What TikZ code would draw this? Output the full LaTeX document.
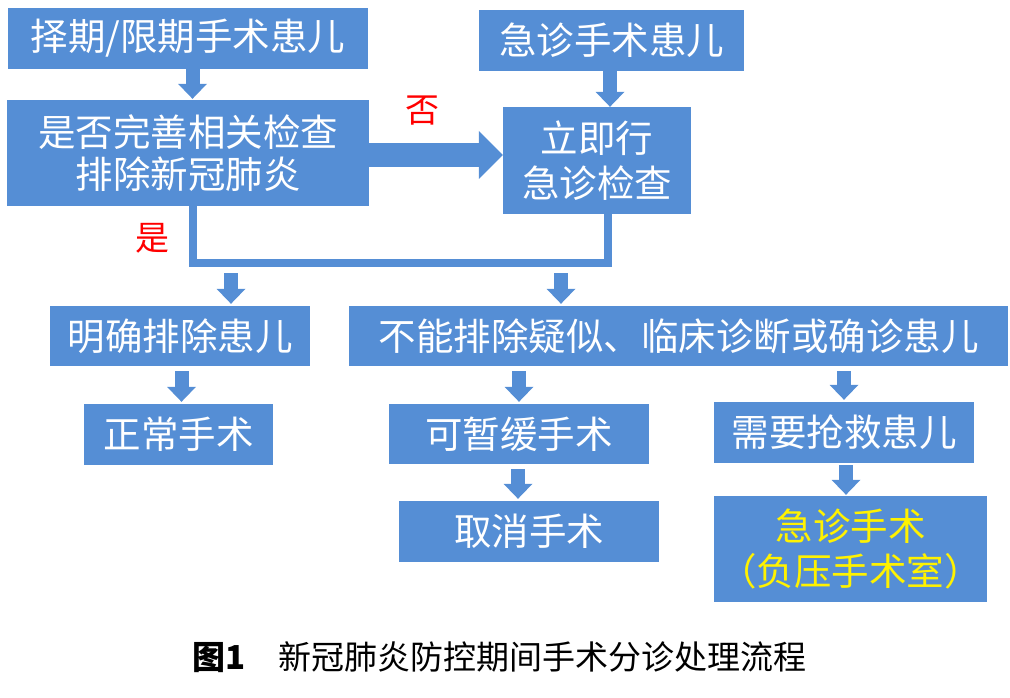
\documentclass[tikz,border=0pt]{standalone}
\usepackage{fontspec}
\setmainfont{Noto Sans CJK SC}
\usetikzlibrary{arrows.meta}
\definecolor{boxblue}{RGB}{85,142,213}

\begin{document}
\begin{tikzpicture}[
  x=1pt, y=-1pt,
  block/.style={rectangle, fill=boxblue, text=white, inner sep=0pt, align=center, font=\fontsize{37.5}{45}\selectfont},
  flow/.style={draw=boxblue, line width=14pt, shorten <=5pt, shorten >=2pt, -{Triangle[length=15pt, width=29pt, line width=0pt]}},
  bigflow/.style={draw=boxblue, line width=24pt, -{Triangle[length=24pt, width=48pt, line width=0pt]}},
  link/.style={draw=boxblue, line width=8.5pt},
  answer/.style={text=red, inner sep=0pt, font=\fontsize{34}{34}\selectfont}
]
\useasboundingbox (0,0) rectangle (1010,698);

\node[block, minimum width=360pt, minimum height=61pt] (elective) at (188,38.5) {择期/限期手术患儿};
\node[block, minimum width=265pt, minimum height=61pt] (emergency) at (611.5,40.5) {急诊手术患儿};
\node[block, minimum width=362pt, minimum height=106pt, font=\fontsize{37.5}{42}\selectfont] (check) at (188,153) {是否完善相关检查\\排除新冠肺炎};
\node[block, minimum width=188pt, minimum height=107pt] (urgent) at (597,160.5) {立即行\\急诊检查};
\node[block, minimum width=260pt, minimum height=60pt] (excluded) at (180,336) {明确排除患儿};
\node[block, minimum width=659pt, minimum height=60pt] (suspect) at (678.5,336) {不能排除疑似、临床诊断或确诊患儿};
\node[block, minimum width=189pt, minimum height=61pt] (normal) at (178.5,434.5) {正常手术};
\node[block, minimum width=260pt, minimum height=60pt] (delay) at (519,434) {可暂缓手术};
\node[block, minimum width=260pt, minimum height=61pt] (rescue) at (844,432.5) {需要抢救患儿};
\node[block, minimum width=260pt, minimum height=61pt] (cancel) at (529,531.5) {取消手术};
\node[block, minimum width=273pt, minimum height=106pt, text=yellow] (emsurgery) at (850.5,549) {急诊手术\\（负压手术室）};

\node[answer] (no) at (422,111) {否};
\node[answer] (yes) at (152,238) {是};

\coordinate (cornerL) at (193,263);
\coordinate (cornerR) at (608,263);
\coordinate (toexcl) at (231,267);
\coordinate (tosusp) at (561,267);

\draw[flow, shorten <=0pt, shorten >=1pt] ([xshift=4.5pt]elective.south) -- ([xshift=4.5pt]elective.south |- check.north);
\draw[flow, shorten <=0pt, shorten >=0pt] ([xshift=-1.5pt]emergency.south) -- ([xshift=-1.5pt]emergency.south |- urgent.north);
\draw[bigflow] ([yshift=-2pt]check.east) -- ([yshift=-2pt]check.east -| urgent.west);
\draw[link] (check.south -| cornerL) -- (cornerL) -- (cornerR) -- (urgent.south -| cornerR);
\draw[flow, shorten <=6pt] (toexcl) -- (toexcl |- excluded.north);
\draw[flow, shorten <=6pt] (tosusp) -- (tosusp |- suspect.north);
\draw[flow] ([xshift=1.5pt]excluded.south) -- ([xshift=1.5pt]excluded.south |- normal.north);
\draw[flow] (delay.north |- suspect.south) -- (delay.north);
\draw[flow] (rescue.north |- suspect.south) -- (rescue.north);
\draw[flow] ([xshift=-1pt]delay.south) -- ([xshift=-1pt]delay.south |- cancel.north);
\draw[flow, shorten <=2pt, shorten >=1pt] ([xshift=2pt]rescue.south) -- ([xshift=2pt]rescue.south |- emsurgery.north);

\node[inner sep=0pt, font=\fontsize{33}{33}\selectfont] (caption) at (499.5,657) {\textbf{图1}　新冠肺炎防控期间手术分诊处理流程};
\end{tikzpicture}
\end{document}
